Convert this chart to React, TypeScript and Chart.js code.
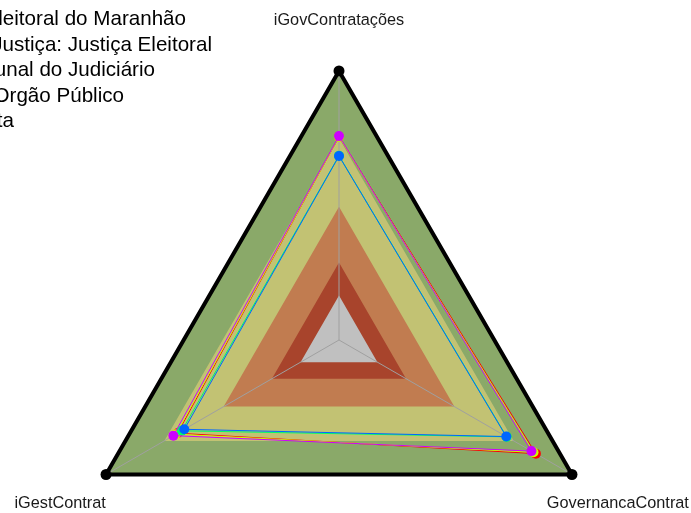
import React, { useEffect, useRef } from "react";
import { Chart, registerables } from "chart.js";

Chart.register(...registerables);

const axisLabels = ["iGovContratações", "GovernancaContrat", "iGestContrat"];

const seriesNames = [
  "Tribunal Regional Eleitoral do Maranhão",
  "Ramo de Justiça: Justiça Eleitoral",
  "Segmento: Tribunal do Judiciário",
  "Tipo: Orgão Público",
  "Meta",
];
const seriesColors = ["#FF0000", "#CCFF00", "#00FF66", "#0066FF", "#CC00FF"];

const trema = [0.756, 0.845, 0.693];
const justicaEleitoral = [0.755, 0.835, 0.70];
const tribunalJudiciario = [0.685, 0.72, 0.675];
const orgaoPublico = [0.684, 0.718, 0.664];
const meta = [0.758, 0.826, 0.711];
const seriesValues = [trema, justicaEleitoral, tribunalJudiciario, orgaoPublico, meta];

// background bands (level thresholds)
const bandLevels = [1.0, 0.75, 0.495, 0.288, 0.165];
const bandColors = ["#8AA969", "#C2C273", "#C17C50", "#A8442C", "#C0C0C0"];

// legend layout (text is clipped by left edge)
const legendRightX = [186, 212, 155, 124, 14];
const legendBaselineY = [25, 50.5, 76, 101.5, 127];

export default function App() {
  const ref = useRef<HTMLCanvasElement | null>(null);

  useEffect(() => {
    const canvas = ref.current;
    if (!canvas) return;

    const bandDatasets = bandLevels.map((lvl, i) => ({
      label: "band" + i,
      data: axisLabels.map(() => lvl),
      backgroundColor: bandColors[i],
      borderColor: i === 0 ? "#000000" : "rgba(0,0,0,0)",
      borderWidth: i === 0 ? 4 : 0,
      pointRadius: i === 0 ? 5.5 : 0,
      pointBackgroundColor: "#000000",
      pointBorderWidth: 0,
      fill: true,
      order: 20 - i,
    }));
    const lastBandIndex = bandDatasets.length - 1;

    const seriesDatasets = seriesValues.map((vals, i) => ({
      label: seriesNames[i],
      data: vals,
      borderColor: seriesColors[i],
      backgroundColor: seriesColors[i],
      borderWidth: 1,
      pointRadius: 5,
      pointBackgroundColor: seriesColors[i],
      pointBorderWidth: 0,
      fill: false,
      order: 5 - i,
    }));

    const anglePlugin = {
      id: "angleLinesOverBands",
      afterDatasetDraw(chart: any, args: any) {
        if (args.index !== lastBandIndex) return;
        const scale = chart.scales.r;
        const ctx = chart.ctx;
        ctx.save();
        ctx.strokeStyle = "#A0A0A0";
        ctx.lineWidth = 1;
        for (let i = 0; i < axisLabels.length; i++) {
          const p = scale.getPointPositionForValue(i, 0.98);
          ctx.beginPath();
          ctx.moveTo(scale.xCenter, scale.yCenter);
          ctx.lineTo(p.x, p.y);
          ctx.stroke();
        }
        ctx.restore();
      },
    };

    const textPlugin = {
      id: "texts",
      afterDraw(chart: any) {
        const scale = chart.scales.r;
        const ctx = chart.ctx;
        ctx.save();
        ctx.fillStyle = "#1a1a1a";
        ctx.font = '16.3px "Liberation Sans", Arial, sans-serif';
        ctx.textAlign = "center";
        ctx.textBaseline = "middle";
        axisLabels.forEach((lab, i) => {
          const p = scale.getPointPositionForValue(i, 1.197);
          ctx.fillText(lab, p.x, p.y + 3);
        });
        ctx.fillStyle = "#000000";
        ctx.font = '20.6px "Liberation Sans", Arial, sans-serif';
        ctx.textAlign = "right";
        ctx.textBaseline = "alphabetic";
        seriesNames.forEach((name, i) => {
          ctx.fillText(name, legendRightX[i], legendBaselineY[i]);
        });
        ctx.restore();
      },
    };

    const chart = new Chart(canvas, {
      type: "radar",
      data: {
        labels: axisLabels,
        datasets: [...bandDatasets, ...seriesDatasets] as any,
      },
      options: {
        responsive: false,
        animation: false,
        devicePixelRatio: 1,
        layout: { padding: { left: 70, right: 83, top: 71, bottom: 11 } },
        elements: { line: { tension: 0 } },
        plugins: {
          legend: { display: false },
          tooltip: { enabled: false },
        },
        scales: {
          r: {
            min: 0,
            max: 1,
            ticks: { display: false },
            grid: { display: false },
            angleLines: { display: false },
            pointLabels: { display: false },
          },
        },
      } as any,
      plugins: [anglePlugin, textPlugin],
    });

    return () => chart.destroy();
  }, []);

  return (
    <div
      style={{
        position: "fixed",
        left: 0,
        top: 0,
        width: 691,
        height: 513,
        overflow: "hidden",
        background: "#ffffff",
      }}
    >
      <canvas ref={ref} width={691} height={620} style={{ display: "block", width: 691, height: 620 }} />
    </div>
  );
}
